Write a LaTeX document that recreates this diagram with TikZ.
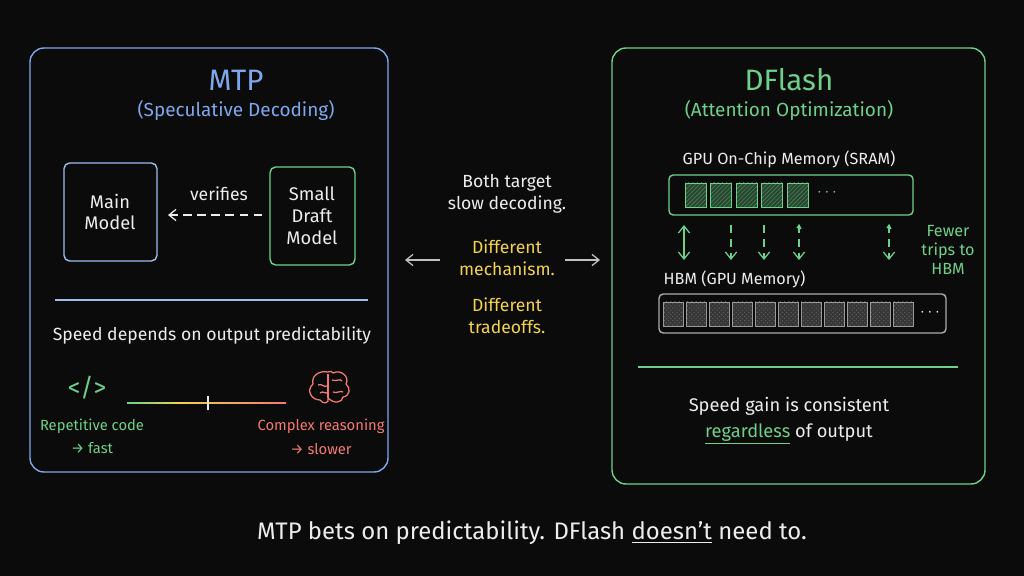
\documentclass[tikz,border=0pt]{standalone}
\usepackage{fontspec}
\setmainfont{Fira Sans}
\usetikzlibrary{arrows.meta,patterns,shadings}
\definecolor{bg}{HTML}{0B0B0B}
\definecolor{cb}{HTML}{7FA8EC}
\definecolor{cg}{HTML}{6FD08A}
\definecolor{cy}{HTML}{F2D34F}
\definecolor{cr}{HTML}{F27A72}
\definecolor{cw}{HTML}{EDEDED}
\definecolor{cgr}{HTML}{9A9A9A}
\begin{document}
\begin{tikzpicture}[x=0.025cm,y=-0.025cm,
 txt/.style={text=cw,font=\fontsize{12.5}{14}\selectfont,inner sep=1pt},
 small/.style={font=\fontsize{10.5}{12}\selectfont,inner sep=1pt},
 ttl/.style={font=\fontsize{21}{22}\selectfont,inner sep=1pt},
 sub/.style={font=\fontsize{13.5}{15}\selectfont,inner sep=1pt},
 mbox/.style={text=cw,align=center,font=\fontsize{13}{15.5}\selectfont,inner sep=1pt},
 panel/.style={draw,line width=1pt,rounded corners=10pt},
 cell/.style={draw=cg,pattern color=cg!60!bg,line width=0.6pt},
 hcell/.style={draw=cgr,line width=0.6pt},
 arr/.style={-{Straight Barb[length=5pt,width=8pt]},line width=0.9pt}]
\fill[bg] (0,0) rectangle (1024,576);
\useasboundingbox (0,0) rectangle (1024,576);
% left panel
\draw[panel,cb] (30,48) rectangle (388,472);
\node[ttl,text=cb] (mtp) at (236,80) {MTP};
\node[sub,text=cb] (mtps) at (236,111) {(Speculative Decoding)};
\draw[cb!70!cw,line width=1pt,rounded corners=4pt] (64,163) rectangle (157,261);
\node[mbox] (main) at (110,212) {Main\\Model};
\draw[cg,line width=1pt,rounded corners=4pt] (270,167) rectangle (355,265);
\node[mbox] (draft) at (312,216) {Small\\Draft\\Model};
\coordinate (d1) at (262,215); \coordinate (d2) at (168,215);
\draw[arr,cw,dash pattern=on 6pt off 4pt] (d1) -- (d2);
\node[txt] (ver) at (219,194) {verifies};
\draw[cb!70!cw,line width=0.8pt] (55,300) -- (368,300);
\node[txt] (spd) at (212,336) {Speed depends on output predictability};
\node[text=cg,font=\fontsize{18}{18}\selectfont] (code) at (87,388) {</>};
\shade[left color=cg,right color=cy] (127,402.3) rectangle (180,403.7);
\shade[left color=cy,right color=cr] (180,402.3) rectangle (286,403.7);
\draw[cw,line width=0.8pt] (208,396) -- (208,410);
% brain
\begin{scope}[cr,line width=0.9pt]
\draw (328,372) .. controls (318,370) and (311,377) .. (313,384) .. controls (306,390) and (311,400) .. (320,400) .. controls (323,405) and (330,403) .. (328,398)
 .. controls (334,404) and (342,403) .. (343,397) .. controls (350,396) and (351,388) .. (346,384) .. controls (350,377) and (341,369) .. (333,373) .. controls (332,371) and (330,371) .. (328,372);
\draw (328,374) -- (328,398);
\draw (318,385) .. controls (322,383) and (324,388) .. (327,386);
\draw (332,380) .. controls (336,382) and (340,378) .. (342,381);
\draw (320,393) .. controls (323,390) and (326,395) .. (328,392);
\draw (333,392) .. controls (337,394) and (340,390) .. (343,392);
\end{scope}
\node[small,text=cg] (rep) at (92,426) {Repetitive code};
\node[small,text=cg] (fast) at (92,448) {→ fast};
\node[small,text=cr] (cx) at (321,426) {Complex reasoning};
\node[small,text=cr] (slow) at (321,449) {→ slower};
% center
\node[txt,align=center,font=\fontsize{12.5}{15.6}\selectfont] (both) at (507,194) {Both target\\slow decoding.};
\node[txt,align=center,text=cy,font=\fontsize{12.5}{15.6}\selectfont] (mech) at (507,258) {Different\\mechanism.};
\node[txt,align=center,text=cy,font=\fontsize{12.5}{15.6}\selectfont] (trade) at (507,316) {Different\\tradeoffs.};
\coordinate (la) at (440,260); \coordinate (lb) at (405,260);
\coordinate (ra) at (565,260); \coordinate (rb) at (600,260);
\draw[arr,cw!80!bg] (la) -- (lb);
\draw[arr,cw!80!bg] (ra) -- (rb);
% right panel
\draw[panel,cg] (612,48) rectangle (985,484);
\node[ttl,text=cg] (dfl) at (789,80) {DFlash};
\node[sub,text=cg] (dfs) at (789,111) {(Attention Optimization)};
\node[txt,font=\fontsize{11.5}{13}\selectfont] (sramT) at (789,159) {GPU On-Chip Memory (SRAM)};
\draw[cg,line width=1pt,rounded corners=3pt] (669,175) rectangle (913,215);
\foreach \i in {0,...,4}{
 \fill[cg!30!bg] (685+25.5*\i,183) rectangle ++(21,24);
 \draw[cell,pattern=north east lines] (685+25.5*\i,183) rectangle ++(21,24);}
\node[txt,text=cg] (sd) at (827,193) {$\cdots$};
\coordinate (u1) at (684,225); \coordinate (v1) at (684,260);
\draw[{Straight Barb[length=5pt,width=8pt]}-{Straight Barb[length=5pt,width=8pt]},cg,line width=0.9pt] (u1) -- (v1);
\foreach \x in {731,764,799,889}{
 \draw[arr,cg,dash pattern=on 6pt off 4pt] (\x,225) -- (\x,260);}
\draw[cg,line width=0.9pt] (797,228) -- (799,225) -- (801,229);
\draw[cg,line width=0.9pt] (887,228) -- (889,225) -- (891,229);
\node[txt,text=cg,align=center,font=\fontsize{11.5}{13.5}\selectfont] (few) at (948,250) {Fewer\\trips to\\HBM};
\node[txt,font=\fontsize{11.5}{13}\selectfont,anchor=west] (hbmT) at (662,279) {HBM (GPU Memory)};
\draw[cgr!80!cw,line width=1pt,rounded corners=3pt] (659,294) rectangle (946,333);
\foreach \i in {0,...,10}{
 \fill[cgr!30!bg] (663+23*\i,302) rectangle ++(20,24);
 \draw[hcell,pattern=crosshatch dots,pattern color=cgr!60!bg] (663+23*\i,302) rectangle ++(20,24);}
\node[txt] (hd) at (930,313) {$\cdots$};
\draw[cg,line width=0.8pt] (638,367) -- (958,367);
\node[txt,font=\fontsize{13}{15}\selectfont] (gain) at (789,406) {Speed gain is consistent};
\node[txt,font=\fontsize{13}{15}\selectfont] (reg) at (789,434) {\textcolor{cg}{\underline{regardless}} of output};
% bottom
\node[txt,font=\fontsize{17}{18}\selectfont] (bot) at (532,533) {MTP bets on predictability. DFlash \underline{doesn’t} need to.};
\end{tikzpicture}
\end{document}
